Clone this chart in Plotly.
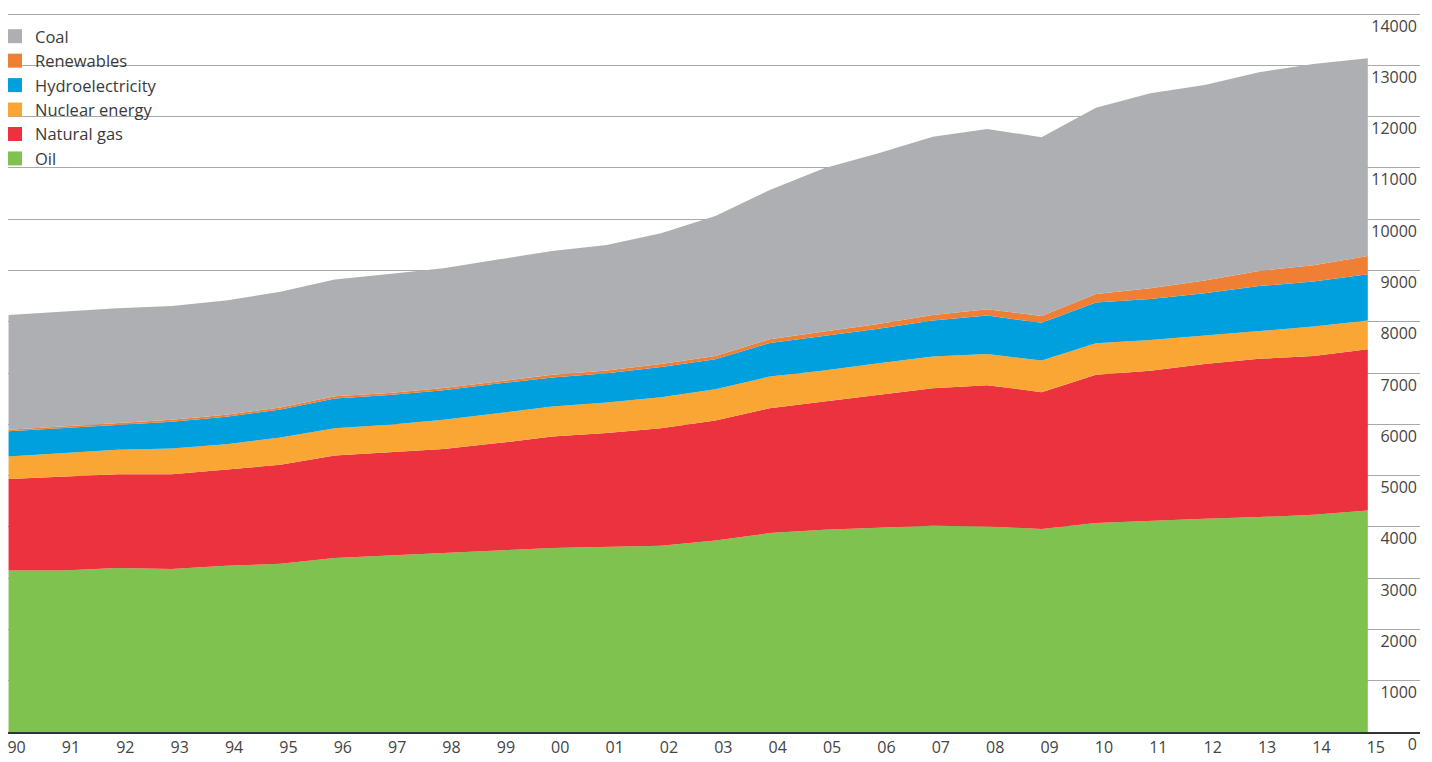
import plotly.graph_objects as go

# World primary energy consumption by fuel, million tonnes oil equivalent
years = [1990, 1991, 1992, 1993, 1994, 1995, 1996, 1997, 1998, 1999, 2000, 2001, 2002,
         2003, 2004, 2005, 2006, 2007, 2008, 2009, 2010, 2011, 2012, 2013, 2014, 2015]
year_labels = ["90", "91", "92", "93", "94", "95", "96", "97", "98", "99", "00", "01", "02",
               "03", "04", "05", "06", "07", "08", "09", "10", "11", "12", "13", "14", "15"]

oil = [3150, 3150, 3196, 3177, 3241, 3280, 3391, 3436, 3489, 3539, 3586, 3606, 3631,
       3734, 3878, 3943, 3976, 4021, 4007, 3957, 4073, 4118, 4157, 4190, 4235, 4319]
natural_gas = [1781, 1832, 1832, 1851, 1871, 1930, 2000, 2013, 2027, 2094, 2175, 2222, 2294,
               2339, 2437, 2500, 2598, 2684, 2756, 2670, 2891, 2924, 3021, 3086, 3099, 3146]
nuclear = [440, 456, 474, 499, 501, 532, 534, 540, 571, 584, 585, 596, 604,
           612, 616, 605, 618, 616, 610, 616, 618, 604, 552, 551, 571, 557]
hydro = [491, 487, 487, 525, 535, 546, 580, 580, 575, 578, 567, 571, 589,
         583, 654, 677, 673, 704, 747, 736, 791, 798, 827, 869, 877, 904]
renewables = [30, 31, 33, 35, 36, 38, 40, 42, 44, 47, 51, 53, 60,
              66, 75, 83, 93, 108, 124, 135, 170, 210, 245, 295, 320, 357]
coal = [2241, 2242, 2240, 2222, 2228, 2261, 2280, 2319, 2339, 2370, 2417, 2450, 2547,
        2729, 2910, 3184, 3327, 3475, 3514, 3483, 3631, 3800, 3814, 3873, 3923, 3854]

y_ticks = [0, 1000, 2000, 3000, 4000, 5000, 6000, 7000, 8000, 9000, 10000, 11000, 12000, 13000, 14000]

# stacking order bottom -> top
series = [
    ("Oil", oil, "#7fc24f"),
    ("Natural gas", natural_gas, "#ec323f"),
    ("Nuclear energy", nuclear, "#f9a634"),
    ("Hydroelectricity", hydro, "#00a0de"),
    ("Renewables", renewables, "#ef7f35"),
    ("Coal", coal, "#aeafb2"),
]

fig = go.Figure()

for name, vals, col in series:
    fig.add_trace(go.Scatter(
        x=years, y=vals, name=name, stackgroup="one",
        mode="lines", line=dict(width=0, color=col),
        fillcolor=col, showlegend=False,
    ))

# legend entries with square swatches, Coal on top
for name, vals, col in reversed(series):
    fig.add_trace(go.Scatter(
        x=[None], y=[None], name=name, mode="markers",
        marker=dict(symbol="square", size=14, color=col),
    ))

# page body adds an 8px offset, so the figure is a bit smaller than the window
fig.update_layout(
    width=1424, height=754,
    margin=dict(l=0, r=12, t=5, b=30),
    paper_bgcolor="white", plot_bgcolor="white",
    font=dict(family="Open Sans, Liberation Sans, Arial, sans-serif", color="#444"),
    legend=dict(
        x=0, y=0.9917, xanchor="left", yanchor="top",
        bgcolor="rgba(0,0,0,0)", font=dict(size=16.5, color="#3a3a3a"),
        traceorder="normal", indentation=-13,
    ),
)

fig.update_xaxes(
    range=[1989.99, 2015.96],
    tickvals=years, ticktext=year_labels,
    showgrid=False, zeroline=False,
    showline=True, linecolor="#333", linewidth=2,
    ticks="", tickfont=dict(size=16, color="#444"),
    ticklabelshift=8, ticklabeloverflow="allow",
)

fig.update_yaxes(
    range=[0, 14020],
    tickvals=y_ticks, tickformat="d",
    side="right", ticklabelposition="inside", ticklabeloverflow="allow",
    showgrid=True, gridcolor="#a9a9a9", gridwidth=1,
    zeroline=False, showline=False, ticks="",
    tickfont=dict(size=16, color="#444"),
    ticklabelshift=12,
)

fig.write_html("out.html")
